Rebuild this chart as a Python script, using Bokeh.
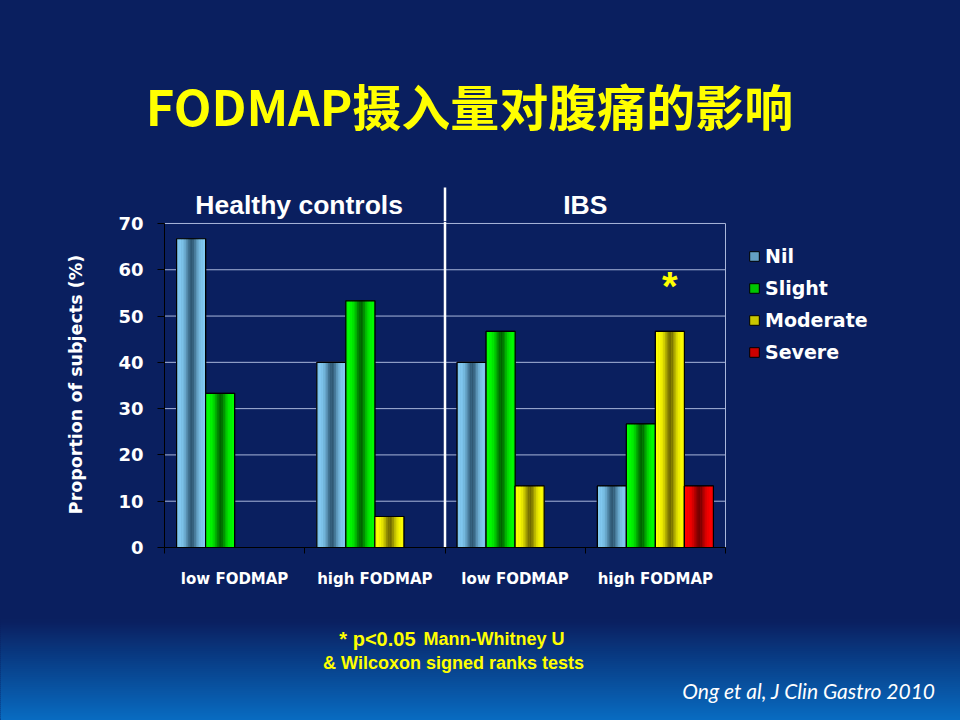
import numpy as np
from bokeh.plotting import figure
from bokeh.models import Range1d, FixedTicker, Legend, LegendItem
from bokeh.embed import file_html
from bokeh.resources import INLINE
from bokeh.core.properties import value

# ---------------- data ----------------
title_text = "FODMAP摄入量对腹痛的影响"
groups = ["Healthy controls", "IBS"]
conditions = ["low FODMAP", "high FODMAP", "low FODMAP", "high FODMAP"]
severity = ["Nil", "Slight", "Moderate", "Severe"]
nil = [66.7, 40.0, 40.0, 13.3]
slight = [33.3, 53.3, 46.7, 26.7]
moderate = [0.0, 6.7, 13.3, 46.7]
severe = [0.0, 0.0, 0.0, 13.3]
y_ticks = [0, 10, 20, 30, 40, 50, 60, 70]
star_condition = 3          # IBS, high FODMAP
star_severity = "Moderate"
y_label = "Proportion of subjects (%)"
footnote1a = "* p<0.05"
footnote1b = "Mann-Whitney U"
footnote2 = "& Wilcoxon signed ranks tests"
citation = "Ong et al, J Clin Gastro 2010"

series = [nil, slight, moderate, severe]

# ---------------- style ----------------
NAVY = "#0a1f5f"
NAVY_RGB = (10, 31, 95)
BOTTOM_BLUE = (8, 108, 194)
GRID = "#a9b6da"
YELLOW = "#ffff00"
light_cols = [(130, 202, 242), (0, 255, 0), (255, 255, 0), (255, 0, 0)]
dark_cols = [(42, 82, 108), (0, 92, 0), (105, 98, 0), (110, 0, 0)]

W = 960
OVERLAP = 16
H_HEAD, H_CHART, H_FOOT = 221, 369 + OVERLAP, 130
LEFT = 164
FRAME_H = 330
CAT_PX = 140.25
PX_PER_UNIT = 328 / 70
x_end = (W - LEFT) / CAT_PX
y_end = FRAME_H / PX_PER_UNIT
n_cat = len(conditions)
bw = 29 / CAT_PX


def hexc(c):
    return "#%02x%02x%02x" % tuple(int(round(v)) for v in c)


def mix(a, b, t):
    return tuple(a[i] + (b[i] - a[i]) * t for i in range(3))


def blank(height):
    f = figure(width=W, height=height, x_range=Range1d(0, W), y_range=Range1d(0, height),
               output_backend="svg", toolbar_location=None, x_axis_location=None,
               y_axis_location=None, min_border=0, background_fill_color=None,
               border_fill_color=None, outline_line_color=None)
    f.grid.visible = False
    return f


# ---------------- header: title, group names, top of divider ----------------
head = blank(H_HEAD)
head.text(x=[469], y=[H_HEAD - 104], text=[title_text], text_color=YELLOW,
          text_font=value("Noto Sans CJK SC"), text_font_style="bold", text_font_size="49px",
          text_align="center", text_baseline="middle")
head.text(x=[LEFT + (n_cat / 4 - 0.04) * CAT_PX, LEFT + (3 * n_cat / 4) * CAT_PX],
          y=[H_HEAD - 204] * 2, text=groups, text_color="white",
          text_font=value("Liberation Sans"), text_font_style="bold", text_font_size="26.5px",
          text_align="center", text_baseline="middle")
head.segment(x0=[LEFT + n_cat / 2 * CAT_PX], x1=[LEFT + n_cat / 2 * CAT_PX],
             y0=[-2], y1=[H_HEAD - 187], line_color="white", line_width=2.5)

# ---------------- chart ----------------
p = figure(width=W, height=H_CHART, x_range=Range1d(0, x_end), y_range=Range1d(0, y_end),
           output_backend="svg", toolbar_location=None,
           min_border_left=LEFT, min_border_right=0, min_border_top=OVERLAP, min_border_bottom=39,
           background_fill_color=None, border_fill_color=None, outline_line_color=None,
           styles={"margin-top": "-%dpx" % OVERLAP})
p.xgrid.visible = False
p.ygrid.visible = False

gl = y_ticks[1:]
p.segment(x0=[0] * len(gl), x1=[n_cat] * len(gl), y0=gl, y1=gl, line_color=GRID, line_width=1)
p.segment(x0=[n_cat], x1=[n_cat], y0=[0], y1=[max(y_ticks)], line_color=GRID, line_width=1)

p.segment(x0=[n_cat / 2], x1=[n_cat / 2], y0=[0], y1=[y_end], line_color="white", line_width=2.5)

legend_items = []
N = 18
for k, (name, vals) in enumerate(zip(severity, series)):
    xs = [i + 0.5 + (k - 1.5) * bw for i in range(n_cat) if vals[i] > 0]
    tops = [vals[i] for i in range(n_cat) if vals[i] > 0]
    midc = hexc(mix(light_cols[k], dark_cols[k], 0.35))
    base = p.vbar(x=xs, top=tops, bottom=0, width=bw, fill_color=midc, line_color="black", line_width=1)
    legend_items.append(LegendItem(label=name, renderers=[base]))
    sx, st, sc = [], [], []
    for x, t in zip(xs, tops):
        for j in range(N):
            tt = (j + 0.5) / N
            d = np.exp(-((tt - 0.52) / 0.2) ** 2) * 0.95
            sx.append(x - bw / 2 + tt * bw)
            st.append(t)
            sc.append(hexc(mix(light_cols[k], dark_cols[k], d)))
    p.vbar(x=sx, top=st, bottom=0, width=bw / N * 1.15, fill_color=sc, line_color=None)
    p.vbar(x=xs, top=tops, bottom=0, width=bw, fill_color=None, line_color="black", line_width=1.2)

ks = severity.index(star_severity)
p.text(x=[star_condition + 0.5 + (ks - 1.5) * bw], y=[series[ks][star_condition] + 9.8],
       text=["*"], text_color=YELLOW, text_font=value("Liberation Sans"), text_font_style="bold",
       text_font_size="40px", text_align="center", text_baseline="alphabetic")

yax = p.yaxis[0]
yax.ticker = FixedTicker(ticks=y_ticks)
yax.bounds = (0, max(y_ticks))
yax.axis_line_color = "black"
yax.major_tick_line_color = "black"
yax.major_tick_out = 7
yax.major_tick_in = 0
yax.minor_tick_line_color = None
yax.major_label_text_color = "white"
yax.major_label_text_font = "DejaVu Sans"
yax.major_label_text_font_style = "bold"
yax.major_label_text_font_size = "18px"
yax.major_label_standoff = 14
yax.axis_label = y_label
yax.axis_label_text_color = "white"
yax.axis_label_text_font = "DejaVu Sans"
yax.axis_label_text_font_style = "bold"
yax.axis_label_text_font_size = "17.5px"
yax.axis_label_standoff = 29

xax = p.xaxis[0]
centers = [i + 0.5 for i in range(n_cat)]
xax.ticker = FixedTicker(ticks=centers, minor_ticks=list(range(n_cat + 1)))
xax.bounds = (0, n_cat)
xax.major_label_overrides = {c: lab for c, lab in zip(centers, conditions)}
xax.axis_line_color = "black"
xax.major_tick_out = 0
xax.major_tick_in = 0
xax.major_tick_line_color = None
xax.minor_tick_out = 6
xax.minor_tick_in = 0
xax.minor_tick_line_color = "black"
xax.major_label_text_color = "white"
xax.major_label_text_font = "DejaVu Sans"
xax.major_label_text_font_style = "bold"
xax.major_label_text_font_size = "15px"
xax.major_label_standoff = 16

legend = Legend(items=legend_items, location=(584, 184), orientation="vertical",
                glyph_width=12, glyph_height=12, label_standoff=5, spacing=10,
                padding=0, margin=0, border_line_color=None, background_fill_alpha=0,
                label_text_color="white", label_text_font="DejaVu Sans",
                label_text_font_style="bold", label_text_font_size="19px", label_height=20)
p.add_layout(legend)

# ---------------- footer ----------------
foot = blank(H_FOOT)
nb = 50
gtop = 100
hb = gtop / nb
bots = [i * hb for i in range(nb)]
tops_b = [(i + 1.8) * hb for i in range(nb)]
cols = [hexc(mix(BOTTOM_BLUE, NAVY_RGB, (i + 0.5) / nb)) for i in range(nb)]
foot.quad(left=-5, right=W + 5, bottom=bots, top=tops_b, fill_color=cols, line_color=None)

foot.text(x=[415], y=[82], text=[footnote1a], text_color=YELLOW, text_font=value("Liberation Sans"),
          text_font_style="bold", text_font_size="20px", text_align="right", text_baseline="middle")
foot.text(x=[423], y=[82], text=[footnote1b], text_color=YELLOW, text_font=value("Liberation Sans"),
          text_font_style="bold", text_font_size="18px", text_align="left", text_baseline="middle")
foot.text(x=[453], y=[58], text=[footnote2], text_color=YELLOW, text_font=value("Liberation Sans"),
          text_font_style="bold", text_font_size="18px", text_align="center", text_baseline="middle")
foot.text(x=[935], y=[30], text=[citation], text_color="white", text_font=value("Lato"),
          text_font_style="italic", text_font_size="21px", text_align="right", text_baseline="middle")

html = file_html([head, p, foot], INLINE, title="FODMAP")
style = "<style>html,body{margin:0;padding:0;background:%s;}</style>" % NAVY
idx = html.rfind("</body>")
html = html[:idx] + style + html[idx:]
with open("out.html", "w") as f:
    f.write(html)
